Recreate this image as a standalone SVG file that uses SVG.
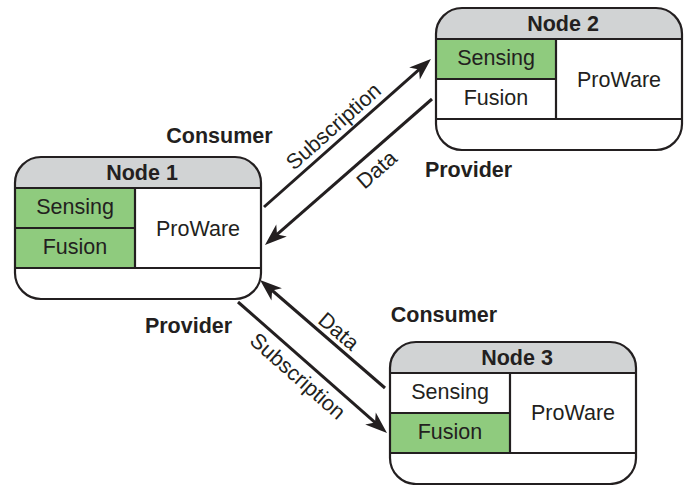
<svg xmlns="http://www.w3.org/2000/svg" width="692" height="485" viewBox="0 0 692 485">
<style>
.frame{fill:none;stroke:#231f20;stroke-width:2.2}
.bg{fill:#ffffff}
.hdr{fill:#d1d3d4}
.green{fill:#8fcb7e}
.div{stroke:#231f20;stroke-width:2.2;fill:none}
text{font-family:"Liberation Sans",Arial,Helvetica,sans-serif;font-size:21.5px;fill:#231f20}
.b{font-weight:bold}
.m{text-anchor:middle}
.conn{stroke:#231f20;stroke-width:3;fill:none;marker-end:url(#ah)}
</style>
<defs>
<marker id="ah" viewBox="-24 -10 26 20" refX="-10" refY="0" markerWidth="26" markerHeight="20" markerUnits="userSpaceOnUse" orient="auto">
<path d="M0,0 L-22,-8 L-16,0 L-22,8 Z" fill="#231f20"/>
</marker>
<g id="frameBase">
<rect class="bg" x="0" y="0" width="246" height="142" rx="26" ry="26"/>
<path class="hdr" d="M0,31 L0,26 A26,26 0 0 1 26,0 L220,0 A26,26 0 0 1 246,26 L246,31 Z"/>
</g>
<g id="frameLines">
<path class="div" d="M0,31 H246 M0,71 H120 M0,111 H246 M120,31 V111"/>
<rect class="frame" x="0" y="0" width="246" height="142" rx="26" ry="26"/>
</g>
</defs>

<g id="connectors">
<line class="conn" x1="264" y1="207" x2="423.5" y2="65.6"/>
<line class="conn" x1="432" y1="99" x2="272.5" y2="238.4"/>
<line class="conn" x1="385" y1="388" x2="267.6" y2="286.5"/>
<line class="conn" x1="238" y1="302" x2="379.5" y2="426.4"/>
<text class="m" transform="translate(342.9,137.1) rotate(-41.5)" x="0" y="-7">Subscription</text>
<text class="m" transform="translate(365.7,157) rotate(-41.2)" x="0" y="24">Data</text>
<text class="m" transform="translate(308.5,364) rotate(41.3)" x="0" y="23.5">Subscription</text>
<text class="m" transform="translate(330.4,340.9) rotate(40.8)" x="0" y="-5.5">Data</text>
</g>

<g id="node1" transform="translate(15,157)">
<use href="#frameBase"/>
<rect class="green" x="0" y="31" width="120" height="80"/>
<use href="#frameLines"/>
<text class="b m" x="127" y="23">Node 1</text>
<text class="m" x="60" y="57">Sensing</text>
<text class="m" x="60" y="97">Fusion</text>
<text class="m" x="183" y="79">ProWare</text>
</g>

<g id="node2" transform="translate(436,8)">
<use href="#frameBase"/>
<rect class="green" x="0" y="31" width="120" height="40"/>
<use href="#frameLines"/>
<text class="b m" x="127" y="22.5">Node 2</text>
<text class="m" x="60" y="56.5">Sensing</text>
<text class="m" x="60" y="97">Fusion</text>
<text class="m" x="183" y="79">ProWare</text>
</g>

<g id="node3" transform="translate(390,342)">
<use href="#frameBase"/>
<rect class="green" x="0" y="71" width="120" height="40"/>
<use href="#frameLines"/>
<text class="b m" x="127" y="22.5">Node 3</text>
<text class="m" x="60" y="56.5">Sensing</text>
<text class="m" x="60" y="97">Fusion</text>
<text class="m" x="183" y="78">ProWare</text>
</g>

<g id="roles">
<text class="b m" x="219.5" y="143">Consumer</text>
<text class="b m" x="468.5" y="177">Provider</text>
<text class="b m" x="188.5" y="333">Provider</text>
<text class="b m" x="444" y="322">Consumer</text>
</g>
</svg>
